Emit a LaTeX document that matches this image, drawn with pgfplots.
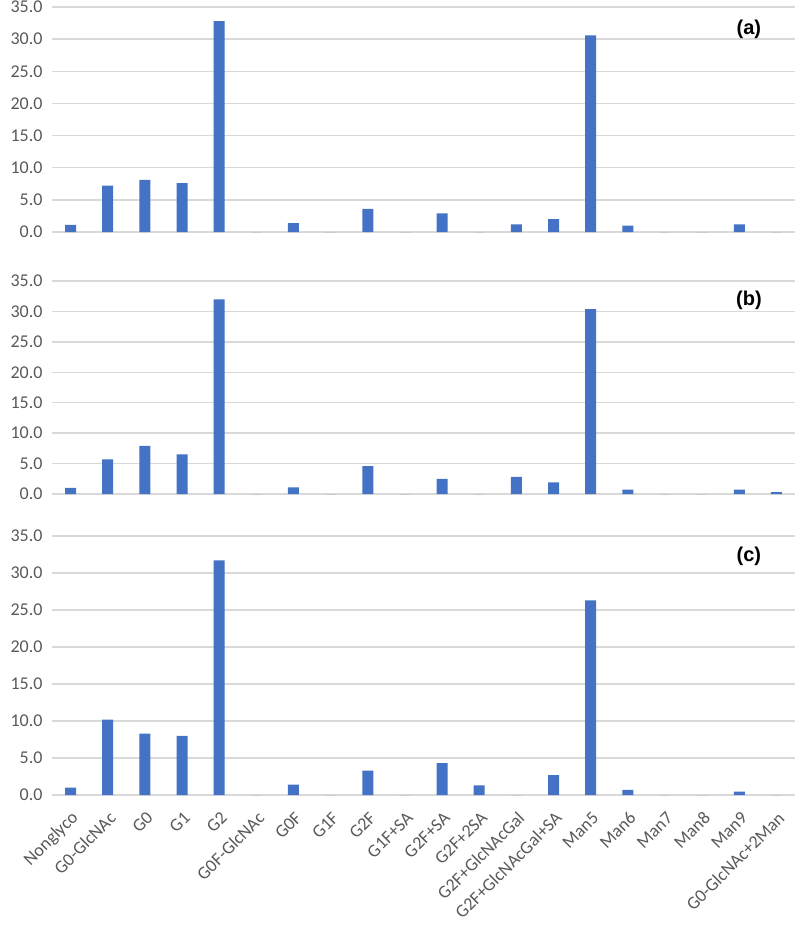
\documentclass[border=0pt]{standalone}
\usepackage{fontspec}
\setmainfont{Carlito}
\newfontfamily\labfont{Liberation Sans}
\usepackage{pgfplots}
\pgfplotsset{compat=1.18}
\definecolor{barblue}{HTML}{4472C4}
\definecolor{gridgray}{HTML}{D9D9D9}
\definecolor{ticktext}{HTML}{595959}

\tikzset{plab/.style={font=\labfont\bfseries\fontsize{20}{24}\selectfont}}
\pgfplotsset{
  panel/.style={
    scale only axis,
    width=743pt,
    xmin=-0.5, xmax=19.5,
    ymin=0, ymax=35,
    ytick={0,5,...,35},
    ybar, bar width=11pt,
    axis line style={draw=none},
    major tick length=0pt,
    ymajorgrids,
    grid style={gridgray, line width=1.3pt},
    yticklabel style={
      /pgf/number format/.cd, fixed, fixed zerofill, precision=1, assume math mode=true,
      /tikz/.cd, font=\fontsize{18}{20}\selectfont, text=ticktext, xshift=-6pt},
    xtick=\empty,
    clip=false,
  },
  bars/.style={fill=barblue, draw=none},
}

\begin{document}
\begin{tikzpicture}
\useasboundingbox (0pt,0pt) rectangle (800pt,-929pt);

% (a)
\begin{axis}[panel, height=225pt, at={(52pt,-232pt)}, anchor=south west]
\addplot[bars] coordinates {
(0,1.1) (1,7.2) (2,8.1) (3,7.6) (4,32.8) (5,0) (6,1.4) (7,0) (8,3.6) (9,0)
(10,2.9) (11,0) (12,1.2) (13,2.0) (14,30.6) (15,1.0) (16,0) (17,0) (18,1.2) (19,0)};
\node[plab] at (axis cs:18.26,31.6) {(a)};
\end{axis}

% (b)
\begin{axis}[panel, height=213pt, at={(52pt,-494pt)}, anchor=south west]
\addplot[bars] coordinates {
(0,1.0) (1,5.7) (2,7.9) (3,6.5) (4,32.0) (5,0) (6,1.1) (7,0) (8,4.6) (9,0)
(10,2.5) (11,0) (12,2.8) (13,1.9) (14,30.4) (15,0.7) (16,0) (17,0) (18,0.7) (19,0.3)};
\node[plab] at (axis cs:18.26,31.9) {(b)};
\end{axis}

% (c)
\begin{axis}[panel, height=259pt, at={(52pt,-795pt)}, anchor=south west,
  xtick={0,1,...,19},
  xticklabels={Nonglyco, G0-GlcNAc, G0, G1, G2, G0F-GlcNAc, G0F, G1F, G2F, G1F+SA,
    G2F+SA, G2F+2SA, G2F+GlcNAcGal, G2F+GlcNAcGal+SA, Man5, Man6, Man7, Man8, Man9, G0-GlcNAc+2Man},
  xticklabel style={font=\fontsize{18}{20}\selectfont, text=ticktext,
    xshift=5pt, yshift=-20pt, rotate=45, anchor=east, inner sep=0pt},
]
\addplot[bars] coordinates {
(0,1.0) (1,10.2) (2,8.3) (3,8.0) (4,31.7) (5,0) (6,1.4) (7,0) (8,3.3) (9,0)
(10,4.3) (11,1.3) (12,0) (13,2.7) (14,26.3) (15,0.7) (16,0) (17,0) (18,0.45) (19,0)};
\node[plab] at (axis cs:18.26,32.2) {(c)};
\end{axis}
\end{tikzpicture}
\end{document}
